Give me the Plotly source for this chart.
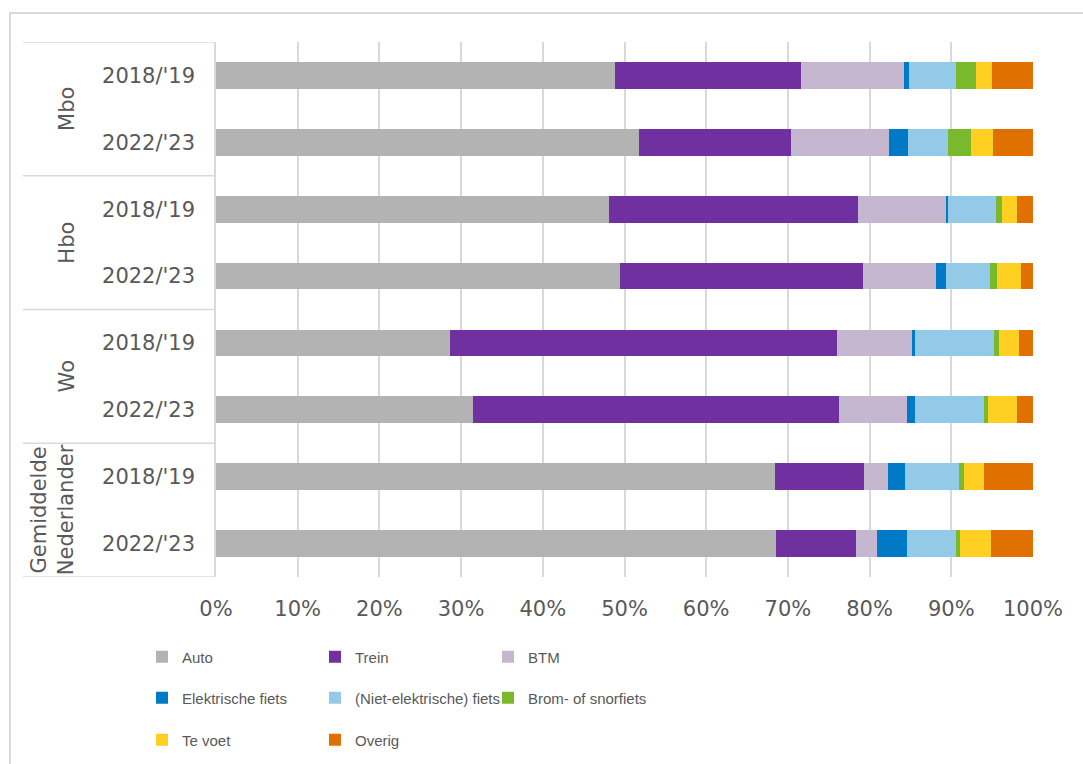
import plotly.graph_objects as go

# Categories (top to bottom)
groups = ["Mbo", "Hbo", "Wo", "Gemiddelde<br>Nederlander"]
years = ["2018/'19", "2022/'23"]
rows = [f"{g}|{y}" for g in groups for y in years]
row_labels = [y for g in groups for y in years]

# Share of trips per mode (%), one value per row
auto = [48.8, 51.8, 48.1, 49.4, 28.7, 31.4, 68.4, 68.6]
trein = [22.8, 18.6, 30.5, 29.8, 47.3, 44.8, 10.9, 9.7]
btm = [12.6, 12.0, 10.7, 8.9, 9.3, 8.4, 2.9, 2.6]
elektrische_fiets = [0.6, 2.3, 0.3, 1.3, 0.2, 0.9, 2.1, 3.7]
niet_elektrische_fiets = [5.8, 4.9, 5.9, 5.3, 9.7, 8.5, 6.7, 6.0]
brom_snorfiets = [2.4, 2.8, 0.7, 0.9, 0.6, 0.5, 0.5, 0.5]
te_voet = [2.0, 2.7, 1.9, 2.9, 2.5, 3.5, 2.5, 3.7]
overig = [5.0, 4.9, 1.9, 1.5, 1.7, 2.0, 6.0, 5.2]

series = [
    ("Auto", auto, "#b3b3b3", "legend"),
    ("Trein", trein, "#7030a0", "legend"),
    ("BTM", btm, "#c5b7cf", "legend"),
    ("Elektrische fiets", elektrische_fiets, "#0079c6", "legend2"),
    ("(Niet-elektrische) fiets", niet_elektrische_fiets, "#93cae8", "legend2"),
    ("Brom- of snorfiets", brom_snorfiets, "#7ab82c", "legend2"),
    ("Te voet", te_voet, "#ffcf21", "legend3"),
    ("Overig", overig, "#e07000", "legend3"),
]

TEXT = "#595959"
GRID = "#d9d9d9"
FONT = "DejaVu Sans, Verdana, sans-serif"
LEG_FONT = "Liberation Sans, Arial, sans-serif"

fig = go.Figure()
for name, vals, color, leg in series:
    fig.add_trace(go.Bar(
        y=list(range(len(rows))), x=vals, name=name, orientation="h",
        marker=dict(color=color, line=dict(width=0)),
        legend=leg, hovertemplate="%{x:.1f}%<extra>" + name + "</extra>",
    ))

W, H = 1083, 764
L, R, T, B = 216, 50, 42, 187
pw, ph = W - L - R, H - T - B


def px_x(px):
    return (px - L) / pw


def px_y(py):
    return (H - B - py) / ph


shapes = []
# group separators in the label column
for yb in [-0.5, 1.5, 3.5, 5.5, 7.5]:
    shapes.append(dict(type="line", xref="paper", yref="y", x0=px_x(23), x1=0,
                       y0=yb, y1=yb, line=dict(color=GRID, width=1.5)))
# outer chart frame
shapes.append(dict(type="rect", xref="paper", yref="paper",
                   x0=px_x(10), x1=px_x(1100), y0=px_y(790), y1=px_y(13),
                   line=dict(color=GRID, width=2), fillcolor="rgba(0,0,0,0)", layer="below"))

annotations = []
for i, g in enumerate(groups):
    two_line = "<br>" in g
    annotations.append(dict(
        text=g, xref="paper", yref="y", x=px_x(52 if two_line else 67), y=2 * i + 0.5,
        textangle=-90, showarrow=False, xanchor="center", yanchor="middle",
        font=dict(family=FONT, size=21, color=TEXT), align="center",
    ))

# legend rows placed in container coordinates so they do not push the plot margins
legend_common = dict(
    orientation="h", xref="container", yref="container",
    xanchor="left", yanchor="middle", x=142 / W,
    font=dict(family=LEG_FONT, size=15, color=TEXT),
    entrywidth=128, entrywidthmode="pixels", bgcolor="rgba(0,0,0,0)",
    traceorder="normal", itemclick=False, itemdoubleclick=False,
)

fig.update_layout(
    width=W, height=H, margin=dict(l=L, r=R, t=T, b=B, pad=0, autoexpand=False),
    paper_bgcolor="white", plot_bgcolor="white",
    barmode="stack", bargap=0.6,
    font=dict(family=FONT, size=21, color=TEXT),
    xaxis=dict(range=[0, 100], dtick=10, ticksuffix="%", showgrid=True,
               gridcolor=GRID, gridwidth=1.5, zeroline=False, showline=False,
               ticks="", ticklabelstandoff=17, tickfont=dict(size=21, color=TEXT),
               fixedrange=True),
    yaxis=dict(range=[7.5, -0.5], tickmode="array", tickvals=list(range(len(rows))),
               ticktext=row_labels, showgrid=False, zeroline=False, showline=True,
               linecolor=GRID, linewidth=1.5, ticks="", ticklabelstandoff=15,
               tickfont=dict(size=21, color=TEXT), fixedrange=True),
    legend=dict(legend_common, y=(H - 657) / H),
    legend2=dict(legend_common, y=(H - 698) / H),
    legend3=dict(legend_common, y=(H - 740) / H),
    shapes=shapes, annotations=annotations,
)

fig.write_html("out.html")
